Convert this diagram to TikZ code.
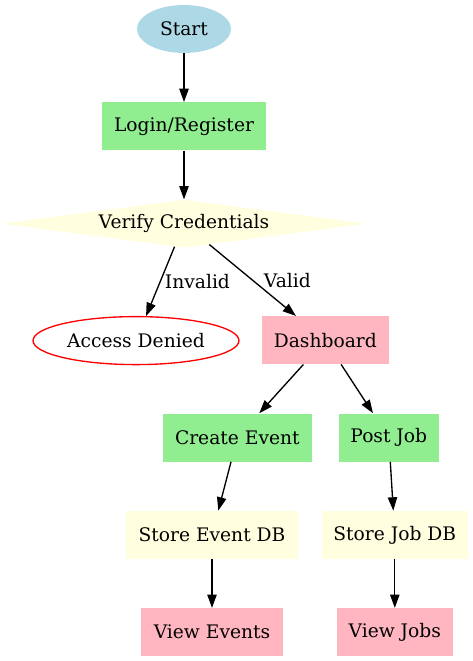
\documentclass[tikz,border=0pt]{standalone}
\usepackage{fontspec}
\setmainfont{DejaVu Serif}
\usepackage{tikz}
\usetikzlibrary{
  shapes.geometric,
  arrows.meta,
  positioning
}
\definecolor{StartBlue}{RGB}{173,216,230}
\definecolor{StepGreen}{RGB}{144,238,144}
\definecolor{CheckYellow}{RGB}{255,255,224}
\definecolor{PagePink}{RGB}{255,182,193}
\definecolor{DenyRed}{RGB}{255,0,0}
\tikzset{
  %%── nodes ──────────────────────────────────────────────
  base/.style = {
    inner sep = 0pt, minimum height = 36pt,
    align = center, font = \fontsize{14}{16}\selectfont
  },
  term/.style  = {base, ellipse,   fill = StartBlue},
  proc/.style  = {base, rectangle, fill = StepGreen},
  deci/.style  = {base, diamond,   fill = CheckYellow, aspect = 7.6},
  deny/.style  = {base, ellipse,   draw = DenyRed, line width = 1pt},
  page/.style  = {base, rectangle, fill = PagePink},
  store/.style = {base, rectangle, fill = CheckYellow},
  %%── edge labels ────────────────────────────────────────
  lbl/.style = {inner sep = 0pt, font = \fontsize{14}{16}\selectfont},
  %%── arrows ─────────────────────────────────────────────
  arr/.style = {-{Triangle[length = 10pt, width = 7pt]}, line width = 1pt, color = black},
}
\begin{document}
\begin{tikzpicture}[node distance = 36.6pt]

  \useasboundingbox (0,0) rectangle (354.75pt,-495.75pt);

  %% ── start / login / check ───────────────────────────
  \node[term, minimum width = 70.5pt] (start) at (138pt,-21.75pt) {Start};
  \node[proc, minimum width = 123pt, below=of start] (login) {Login/Register};
  \node[deci, minimum width = 274pt, below=of login]  (verify) {Verify Credentials};

  %% ── outcome of the check ────────────────────────────
  \node[deny, minimum width = 154.5pt, below=51pt of verify, xshift=-36pt] (denied)
    {Access Denied};
  \node[page, minimum width = 95pt, below=51pt of verify, xshift=106pt] (dash)
    {Dashboard};

  %% ── event branch ────────────────────────────────────
  \node[proc, minimum width = 112pt, below=of dash, xshift=-66pt]     (event) {Create Event};
  \node[store, minimum width = 129pt, below=of event, xshift=-19pt]   (eventdb) {Store Event DB};
  \node[page, minimum width = 106pt, below=of eventdb]                (viewev) {View Events};

  %% ── job branch ──────────────────────────────────────
  \node[proc, minimum width = 75pt, below=of dash, xshift=47.6pt]     (job) {Post Job};
  \node[store, minimum width = 109.5pt, below=of job, xshift=4.5pt]   (jobdb) {Store Job DB};
  \node[page, minimum width = 87pt, below=of jobdb]                   (viewjob) {View Jobs};

  %% ── arrows ──────────────────────────────────────────
  \draw[arr] (start)  -- (login);
  \draw[arr] (login)  -- (verify);
  \draw[arr] (verify) -- node[lbl, right=3pt] {Invalid} (denied);
  \draw[arr] (verify) -- node[lbl, right=8pt] {Valid}   (dash);
  \draw[arr] (dash)    -- (event);
  \draw[arr] (dash)    -- (job);
  \draw[arr] (event)   -- (eventdb);
  \draw[arr] (job)     -- (jobdb);
  \draw[arr] (eventdb) -- (viewev);
  \draw[arr] (jobdb)   -- (viewjob);

\end{tikzpicture}
\end{document}
